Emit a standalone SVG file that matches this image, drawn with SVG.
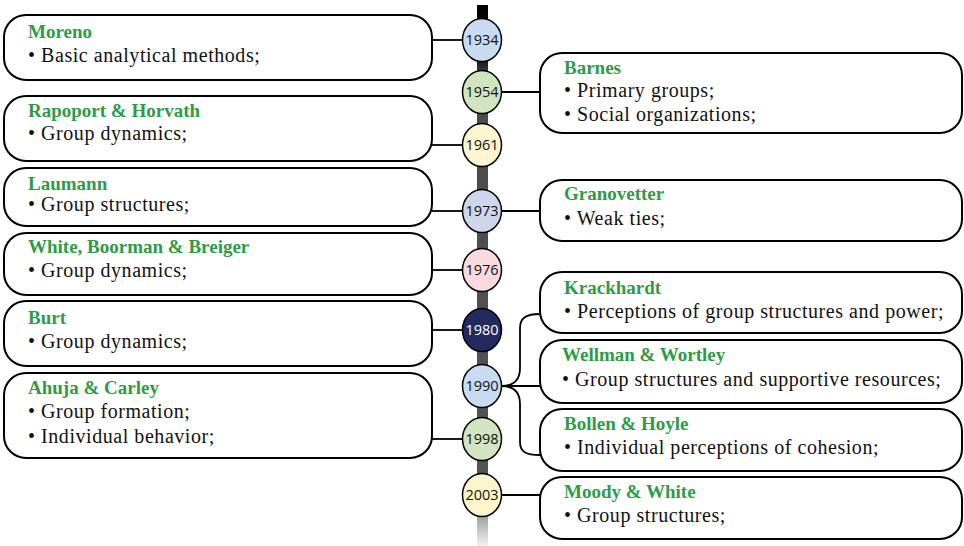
<svg xmlns="http://www.w3.org/2000/svg" width="964" height="546" viewBox="0 0 964 546">
<defs>
<linearGradient id="bar" gradientUnits="userSpaceOnUse" x1="0" y1="5" x2="0" y2="546">
<stop offset="0" stop-color="#000"/>
<stop offset="0.1" stop-color="#111"/>
<stop offset="0.13" stop-color="#4a4a4a"/>
<stop offset="0.9" stop-color="#555"/>
<stop offset="0.94" stop-color="#999"/>
<stop offset="1" stop-color="#f2f2f2"/>
</linearGradient>
<style>
.box{fill:#fff;stroke:#000;stroke-width:2}
.t{font-family:"Liberation Serif","Times New Roman",serif;font-size:19px;font-weight:bold;fill:#2e9b47}
.b{font-family:"Liberation Serif","Times New Roman",serif;font-size:20px;letter-spacing:0.55px;fill:#111}
.c{stroke:#000;stroke-width:1.5}
.y{font-family:"Open Sans","Liberation Sans",sans-serif;font-size:14.5px;fill:#111;text-anchor:middle}
.con{fill:none;stroke:#000;stroke-width:1.8}
</style>
</defs>
<rect x="477" y="5" width="11" height="541" fill="url(#bar)"/>
<g id="connectors">
<path class="con" d="M432,40H463"/>
<path class="con" d="M432,145H463"/>
<path class="con" d="M432,211H463"/>
<path class="con" d="M432,270H463"/>
<path class="con" d="M432,330H463"/>
<path class="con" d="M432,439H463"/>
<path class="con" d="M501,92H540"/>
<path class="con" d="M501,211H540"/>
<path class="con" d="M501,386H540"/>
<path class="con" d="M501,386C514,386 520,380 520,368V328C520,318 526,314 540,314"/>
<path class="con" d="M501,386C514,386 520,392 520,404V442C520,452 526,455 540,455"/>
<path class="con" d="M501,495H540"/>
</g>
<g id="moreno"><rect class="box" x="4" y="15" width="428" height="65" rx="22"/>
<text class="t" x="28" y="38">Moreno</text><text class="b" x="28" y="62">• Basic analytical methods;</text></g>
<g id="rapoport"><rect class="box" x="4" y="96" width="428" height="65" rx="22"/>
<text class="t" x="28" y="117">Rapoport &amp; Horvath</text><text class="b" x="28" y="140">• Group dynamics;</text></g>
<g id="laumann"><rect class="box" x="4" y="168" width="428" height="58" rx="22"/>
<text class="t" x="28" y="190">Laumann</text><text class="b" x="28" y="211">• Group structures;</text></g>
<g id="white"><rect class="box" x="4" y="233" width="428" height="62" rx="22"/>
<text class="t" x="28" y="253">White, Boorman &amp; Breiger</text><text class="b" x="28" y="277">• Group dynamics;</text></g>
<g id="burt"><rect class="box" x="4" y="301" width="428" height="65" rx="22"/>
<text class="t" x="28" y="324">Burt</text><text class="b" x="28" y="348">• Group dynamics;</text></g>
<g id="ahuja"><rect class="box" x="4" y="373" width="428" height="85" rx="22"/>
<text class="t" x="28" y="394">Ahuja &amp; Carley</text><text class="b" x="28" y="418">• Group formation;</text><text class="b" x="28" y="443">• Individual behavior;</text></g>
<g id="barnes"><rect class="box" x="540" y="53" width="422" height="80" rx="22"/>
<text class="t" x="564" y="74">Barnes</text><text class="b" x="564" y="97">• Primary groups;</text><text class="b" x="564" y="121">• Social organizations;</text></g>
<g id="granovetter"><rect class="box" x="540" y="180" width="422" height="61" rx="22"/>
<text class="t" x="564" y="200">Granovetter</text><text class="b" x="564" y="225">• Weak ties;</text></g>
<g id="krackhardt"><rect class="box" x="540" y="272" width="422" height="61" rx="22"/>
<text class="t" x="564" y="294">Krackhardt</text><text class="b" x="564" y="318">• Perceptions of group structures and power;</text></g>
<g id="wellman"><rect class="box" x="540" y="340" width="422" height="63" rx="22"/>
<text class="t" x="562" y="361">Wellman &amp; Wortley</text><text class="b" x="562" y="386">• Group structures and supportive resources;</text></g>
<g id="bollen"><rect class="box" x="540" y="409" width="422" height="62" rx="22"/>
<text class="t" x="564" y="430">Bollen &amp; Hoyle</text><text class="b" x="564" y="454">• Individual perceptions of cohesion;</text></g>
<g id="moody"><rect class="box" x="540" y="477" width="422" height="62" rx="22"/>
<text class="t" x="564" y="498">Moody &amp; White</text><text class="b" x="564" y="522">• Group structures;</text></g>
<g id="y1934"><ellipse class="c" cx="482" cy="40" rx="19.5" ry="21.5" fill="#c9dbf1"/><text class="y" x="482" y="45">1934</text></g>
<g id="y1954"><ellipse class="c" cx="482" cy="92" rx="19.5" ry="21.5" fill="#d0e4be"/><text class="y" x="482" y="97">1954</text></g>
<g id="y1961"><ellipse class="c" cx="482" cy="145" rx="19.5" ry="21.5" fill="#fdf6d0"/><text class="y" x="482" y="150">1961</text></g>
<g id="y1973"><ellipse class="c" cx="482" cy="211" rx="19.5" ry="21.5" fill="#cfd6ec"/><text class="y" x="482" y="216">1973</text></g>
<g id="y1976"><ellipse class="c" cx="482" cy="270" rx="19.5" ry="21.5" fill="#f9dadf"/><text class="y" x="482" y="275">1976</text></g>
<g id="y1980"><ellipse class="c" cx="482" cy="330" rx="19.5" ry="21.5" fill="#222a60"/><text class="y" x="482" y="335" style="fill:#fff">1980</text></g>
<g id="y1990"><ellipse class="c" cx="482" cy="386" rx="19.5" ry="21.5" fill="#c7dcf1"/><text class="y" x="482" y="391">1990</text></g>
<g id="y1998"><ellipse class="c" cx="482" cy="439" rx="19.5" ry="21.5" fill="#d2e5c0"/><text class="y" x="482" y="444">1998</text></g>
<g id="y2003"><ellipse class="c" cx="482" cy="495" rx="19.5" ry="21.5" fill="#fdf6cd"/><text class="y" x="482" y="500">2003</text></g>
</svg>
